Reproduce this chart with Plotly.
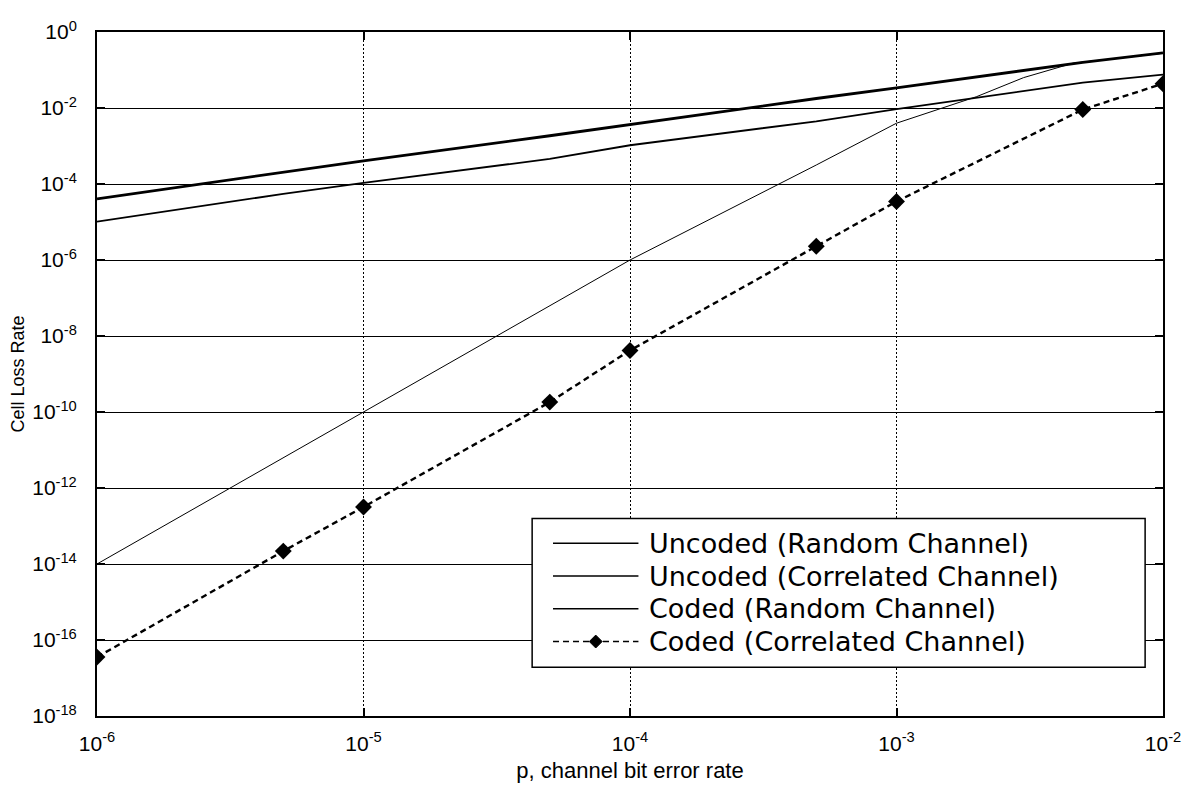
import plotly.graph_objects as go

# channel bit error rate (x) sample points
p = [1e-6, 5e-6, 1e-5, 5e-5, 1e-4, 5e-4, 1e-3, 5e-3, 1e-2]

# log10 of cell loss rate for each curve
uncoded_random_log = [-4.39, -3.69, -3.39, -2.73, -2.43, -1.75, -1.47, -0.80, -0.55]
uncoded_corr_log = [-4.99, -4.26, -3.97, -3.34, -2.98, -2.35, -2.03, -1.33, -1.12]

# coded random channel curve bends near the top, so it has extra points there
p_coded_random = [1e-6, 5e-6, 1e-5, 5e-5, 1e-4, 5e-4, 1e-3, 2e-3, 3e-3, 4.6e-3, 1e-2]
coded_random_log = [-14.0, -11.2, -10.0, -7.2, -6.0, -3.5, -2.40, -1.70, -1.20, -0.82, -0.56]

coded_corr_log = [-16.45, -13.66, -12.5, -9.74, -8.38, -5.64, -4.46, -2.04, -1.36]

series_names = ["Uncoded (Random Channel)", "Uncoded (Correlated Channel)",
                "Coded (Random Channel)", "Coded (Correlated Channel)"]

x_tick_vals = [1e-6, 1e-5, 1e-4, 1e-3, 1e-2]
x_tick_text = ["10<sup>-6</sup>", "10<sup>-5</sup>", "10<sup>-4</sup>",
               "10<sup>-3</sup>", "10<sup>-2</sup>"]
y_exponents = [0, -2, -4, -6, -8, -10, -12, -14, -16, -18]
y_tick_vals = [10.0 ** e for e in y_exponents]
y_tick_text = [f"10<sup>{e}</sup>" for e in y_exponents]


def to_linear(logs):
    return [10.0 ** v for v in logs]


FONT = "Liberation Sans, Arial, sans-serif"
LEGEND_FONT = "DejaVu Sans, Liberation Sans, sans-serif"
W, H = 1193, 791
ML, MR, MT, MB = 97, 23, 32, 70
PW, PH = W - ML - MR, H - MT - MB

line_styles = [
    dict(color="black", width=2.8),
    dict(color="black", width=1.8),
    dict(color="black", width=1.0),
    dict(color="black", width=2.4, dash="6px,4px"),
]

fig = go.Figure()
fig.add_trace(go.Scatter(x=p, y=to_linear(uncoded_random_log), mode="lines",
                         name=series_names[0], line=line_styles[0]))
fig.add_trace(go.Scatter(x=p, y=to_linear(uncoded_corr_log), mode="lines",
                         name=series_names[1], line=line_styles[1]))
fig.add_trace(go.Scatter(x=p_coded_random, y=to_linear(coded_random_log), mode="lines",
                         name=series_names[2], line=line_styles[2]))
fig.add_trace(go.Scatter(x=p, y=to_linear(coded_corr_log), mode="lines+markers",
                         name=series_names[3], line=line_styles[3],
                         marker=dict(symbol="diamond", size=13, color="black")))

axis_common = dict(
    type="log", showline=True, linecolor="black", linewidth=2, mirror="ticks",
    ticks="inside", ticklen=8, tickcolor="black", tickwidth=1.5,
    gridcolor="black", zeroline=False,
    tickfont=dict(family=FONT, size=21, color="black"),
)

fig.update_xaxes(
    **axis_common,
    range=[-6, -2], tickvals=x_tick_vals, ticktext=x_tick_text,
    griddash="2px,2px", gridwidth=1, ticklabelstandoff=8,
    title=dict(text="p, channel bit error rate",
               font=dict(family=FONT, size=22, color="black"), standoff=8),
)
fig.update_yaxes(
    **axis_common,
    range=[-18, 0], tickvals=y_tick_vals, ticktext=y_tick_text,
    griddash="solid", gridwidth=1.4, ticklabelstandoff=14,
    title=dict(text="Cell Loss Rate",
               font=dict(family=FONT, size=18, color="black"), standoff=3),
)


# legend box drawn in pixel units, converted to paper coordinates
def px_x(v):
    return (v - ML) / PW


def px_y(v):
    return (H - MB - v) / PH


box_l, box_r, box_t, box_b = 535, 1152, 522, 672
row_y = [547, 580, 613, 646]
sample_l, sample_r, text_l = 556, 642, 652

shapes = [dict(type="rect", xref="paper", yref="paper",
               x0=px_x(box_l), x1=px_x(box_r), y0=px_y(box_b), y1=px_y(box_t),
               line=dict(color="black", width=1.5), fillcolor="white", layer="above")]
annotations = []
for name, style, ry in zip(series_names, line_styles, row_y):
    dash = style.get("dash", "solid")
    shapes.append(dict(type="line", xref="paper", yref="paper",
                       x0=px_x(sample_l), x1=px_x(sample_r),
                       y0=px_y(ry), y1=px_y(ry), layer="above",
                       line=dict(color="black", width=1.6, dash=dash)))
    annotations.append(dict(text=name, xref="paper", yref="paper",
                            x=px_x(text_l), y=px_y(ry), xanchor="left", yanchor="middle",
                            showarrow=False, borderpad=0,
                            font=dict(family=LEGEND_FONT, size=27, color="black")))

# diamond marker on the last legend sample
cx, cy, r = (sample_l + sample_r) / 2, row_y[3], 6.5
shapes.append(dict(type="path", xref="paper", yref="paper", layer="above",
                   path=(f"M {px_x(cx - r)} {px_y(cy)} L {px_x(cx)} {px_y(cy - r)} "
                         f"L {px_x(cx + r)} {px_y(cy)} L {px_x(cx)} {px_y(cy + r)} Z"),
                   fillcolor="black", line=dict(color="black", width=1)))

fig.update_layout(
    width=W, height=H,
    margin=dict(l=ML, r=MR, t=MT, b=MB),
    paper_bgcolor="white", plot_bgcolor="white",
    showlegend=False,
    shapes=shapes, annotations=annotations,
)

fig.write_html("out.html")
